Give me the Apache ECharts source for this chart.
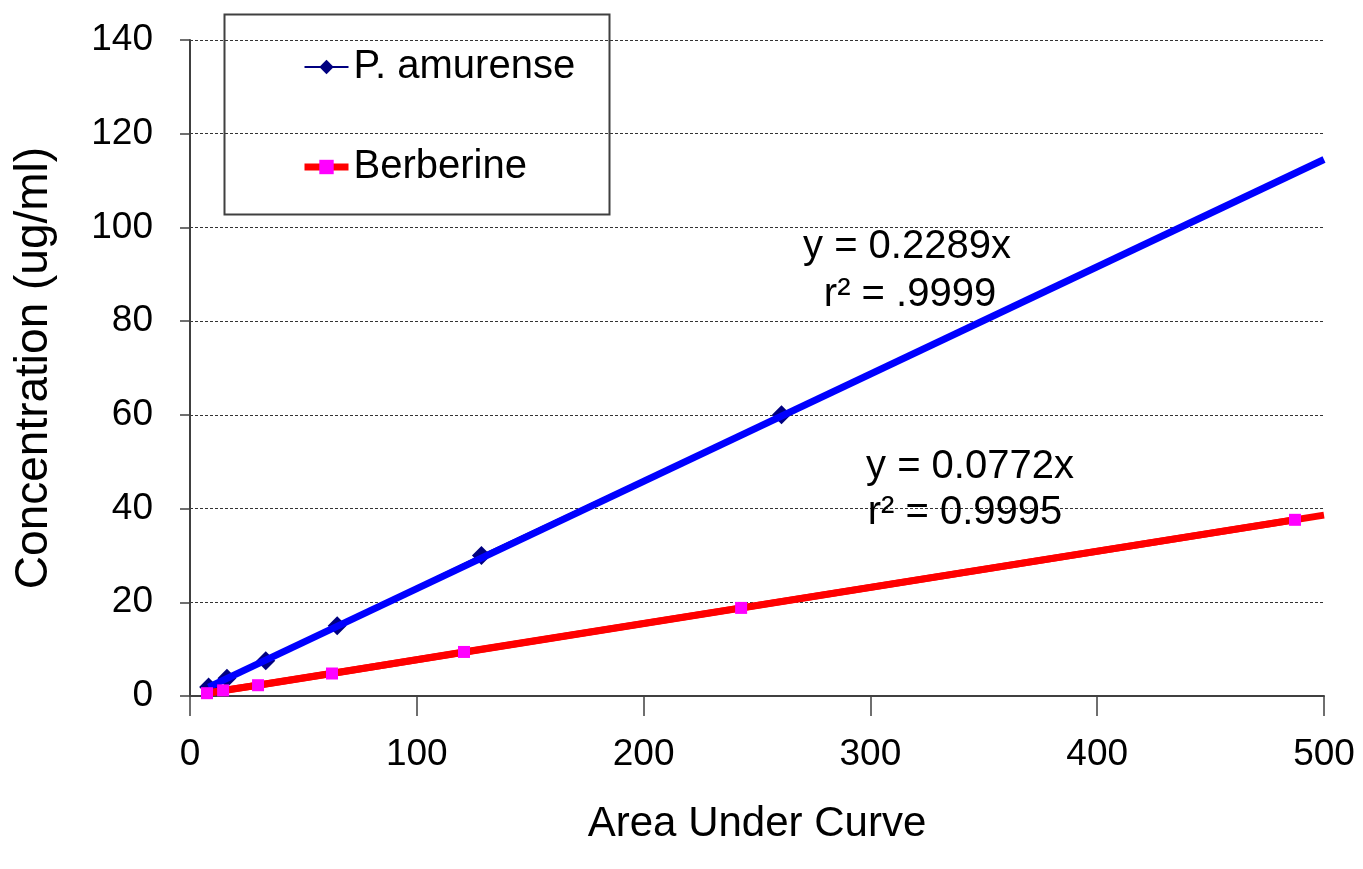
<!DOCTYPE html>
<html>
<head>
<meta charset="utf-8">
<script src="https://cdn.jsdelivr.net/npm/echarts@6/dist/echarts.min.js"></script>
<style>
html,body{margin:0;padding:0;background:#fff;}
#chart{width:1363px;height:869px;}
</style>
</head>
<body>
<div id="chart"></div>
<script>
// ---- Data ----
const amurenseX = [8.2, 16.3, 33.4, 64.9, 128.5, 260.8];
const amurenseY = [1.9, 3.8, 7.5, 15, 30, 60];
const berberineX = [7.5, 14.6, 30.0, 62.6, 120.8, 243.0, 487.2];
const berberineY = [0.6, 1.2, 2.3, 4.8, 9.4, 18.8, 37.6];
// trendline end points
const amurenseTrendX = [8.2, 500];
const amurenseTrendY = [1.9, 114.5];
const berberineTrendX = [7.5, 500];
const berberineTrendY = [0.6, 38.6];
const xTicks = [0, 100, 200, 300, 400, 500];
const yTicks = [0, 20, 40, 60, 80, 100, 120, 140];
const eq1 = ['y = 0.2289x', 'r\u00B2 = .9999'];
const eq2 = ['y = 0.0772x', 'r\u00B2 = 0.9995'];

const zip = (xs, ys) => xs.map((x, i) => [x, ys[i]]);
const FONT = '"Liberation Sans", Arial, sans-serif';

const chart = echarts.init(document.getElementById('chart'), null, {renderer: 'canvas'});
chart.setOption({
  animation: false,
  backgroundColor: '#fff',
  grid: {left: 190, right: 39, top: 40, bottom: 173, containLabel: false, outerBoundsMode: 'none'},
  xAxis: {
    type: 'value', min: xTicks[0], max: xTicks[xTicks.length - 1], interval: 100,
    name: 'Area Under Curve', nameLocation: 'middle', nameGap: 107,
    nameTextStyle: {fontFamily: FONT, fontSize: 42, color: '#000'},
    axisLine: {show: true, onZero: false, lineStyle: {color: '#404040', width: 2}},
    axisTick: {show: true, length: 20, lineStyle: {color: '#404040', width: 1.5}},
    axisLabel: {fontFamily: FONT, fontSize: 37, color: '#000', margin: 40},
    splitLine: {show: false}
  },
  yAxis: {
    type: 'value', min: yTicks[0], max: yTicks[yTicks.length - 1], interval: 20,
    name: 'Concentration (ug/ml)', nameLocation: 'middle', nameGap: 133, nameRotate: 90,
    nameTextStyle: {fontFamily: FONT, fontSize: 46, color: '#000'},
    axisLine: {show: true, onZero: false, lineStyle: {color: '#404040', width: 2}},
    axisTick: {show: true, length: 10, lineStyle: {color: '#404040', width: 1.5}},
    axisLabel: {fontFamily: FONT, fontSize: 37, color: '#000', margin: 37},
    splitLine: {show: true, lineStyle: {color: '#333', width: 1, type: [3, 2]}}
  },
  legend: {
    data: [
      {name: 'P. amurense'},
      {name: 'Berberine', lineStyle: {width: 7}}
    ],
    orient: 'vertical', left: 301, top: 47, padding: 0,
    itemWidth: 44, itemHeight: 18, itemGap: 60,
    textStyle: {fontFamily: FONT, fontSize: 40, lineHeight: 40, color: '#000'},
    selectedMode: false
  },
  series: [
    {
      name: 'P. amurense', type: 'line', data: zip(amurenseX, amurenseY),
      symbol: 'diamond', symbolSize: 19, showAllSymbol: true,
      lineStyle: {color: '#000080', width: 2},
      itemStyle: {color: '#000080'}, z: 2
    },
    {
      name: 'amurenseTrend', type: 'line', data: zip(amurenseTrendX, amurenseTrendY),
      symbol: 'none', lineStyle: {color: '#0000FF', width: 7}, z: 3, silent: true
    },
    {
      name: 'berberineTrend', type: 'line', data: zip(berberineTrendX, berberineTrendY),
      symbol: 'none', lineStyle: {color: '#FF0000', width: 7}, z: 4, silent: true
    },
    {
      name: 'Berberine', type: 'line', data: zip(berberineX, berberineY),
      symbol: 'rect', symbolSize: 12, showAllSymbol: true,
      lineStyle: {color: '#FF0000', width: 7},
      itemStyle: {color: '#FF00FF'}, z: 5
    }
  ],
  graphic: [
    {type: 'rect', left: 222, top: 12, shape: {width: 385, height: 200},
     style: {fill: 'none', stroke: '#404040', lineWidth: 2}, z: 10},
    {type: 'text', x: 907, y: 247, style: {text: eq1[0], font: '40px ' + FONT, fill: '#000', textAlign: 'center', textVerticalAlign: 'middle'}, z: 10},
    {type: 'text', x: 910, y: 295, style: {text: eq1[1], font: '40px ' + FONT, fill: '#000', textAlign: 'center', textVerticalAlign: 'middle'}, z: 10},
    {type: 'text', x: 970, y: 467, style: {text: eq2[0], font: '40px ' + FONT, fill: '#000', textAlign: 'center', textVerticalAlign: 'middle'}, z: 10},
    {type: 'text', x: 965, y: 513, style: {text: eq2[1], font: '40px ' + FONT, fill: '#000', textAlign: 'center', textVerticalAlign: 'middle'}, z: 10}
  ]
});
</script>
</body>
</html>
